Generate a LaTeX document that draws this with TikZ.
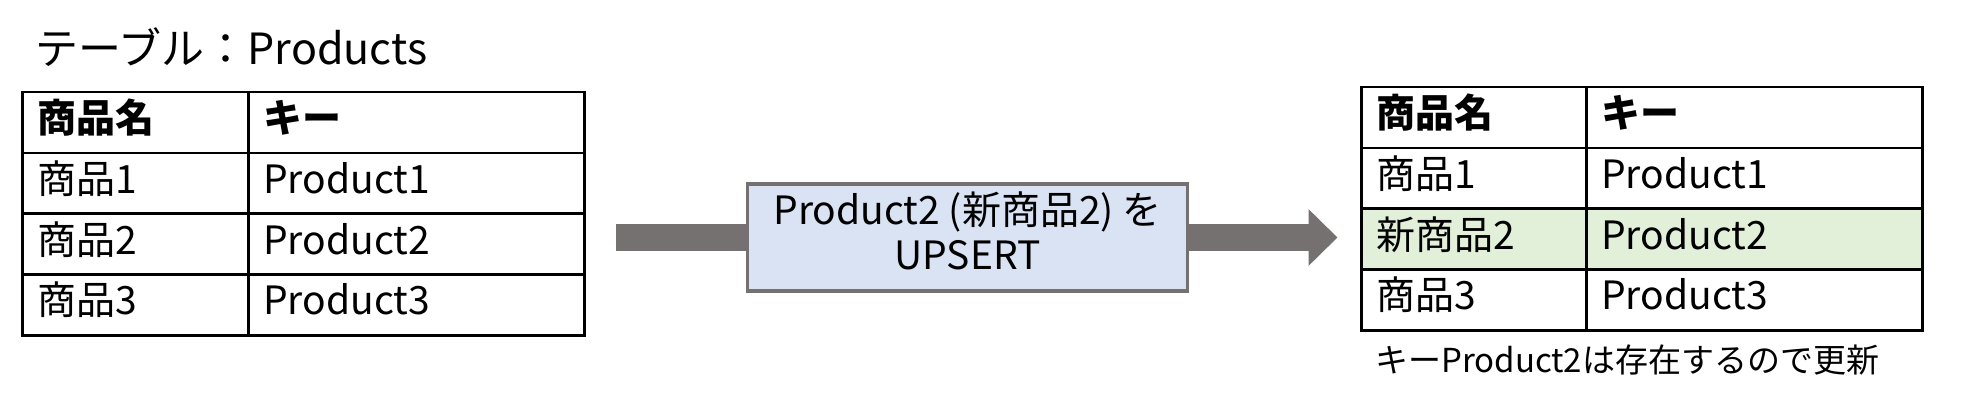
\documentclass[tikz,border=0pt]{standalone}
\usepackage{fontspec}
\setmainfont{Noto Sans CJK JP}
\usetikzlibrary{arrows.meta}
\definecolor{arrowgray}{HTML}{767171}
\definecolor{boxblue}{HTML}{DAE3F3}
\definecolor{rowgreen}{HTML}{E2F0D9}
\tikzset{
  cell/.style={draw=black, line width=2.5pt, anchor=north west, inner xsep=15pt, inner ysep=0pt,
    minimum height=60.75pt, text height=30pt, text depth=10pt, align=left, font=\fontsize{39}{46}\selectfont},
  colA/.style={cell, minimum width=226pt, text width=196pt},
  colB/.style={cell, minimum width=336pt, text width=306pt},
  colAr/.style={cell, minimum width=225pt, text width=195pt},
  colBr/.style={cell, minimum width=336pt, text width=306pt},
  hdr/.style={font=\fontsize{39}{46}\selectfont\bfseries},
  upsertbox/.style={draw=arrowgray, line width=3.5pt, fill=boxblue, minimum width=440pt, minimum height=107pt,
    inner sep=0pt, font=\fontsize{39}{45}\selectfont},
  bigarrow/.style={draw=arrowgray, line width=27.5pt, -{Triangle[length=29pt,width=55pt]}},
  titletext/.style={anchor=west, inner sep=0pt, font=\fontsize{43}{50}\selectfont},
  notetext/.style={anchor=west, inner sep=0pt, font=\fontsize{33}{40}\selectfont}
}
\begin{document}
\begin{tikzpicture}[x=1pt,y=-1pt]
\useasboundingbox (0,0) rectangle (1961,403);
\fill[white] (0,0) rectangle (1961,403);
% title
\node[titletext] (title) at (35,47.5) {テーブル：Products};
% left table
\node[colA,hdr] (L00) at (21,91) {商品名};
\node[colB,hdr] (L01) at (247,91) {キー};
\node[colA] (L10) at (21,151.75) {商品1};
\node[colB] (L11) at (247,151.75) {Product1};
\node[colA] (L20) at (21,212.5) {商品2};
\node[colB] (L21) at (247,212.5) {Product2};
\node[colA] (L30) at (21,273.25) {商品3};
\node[colB] (L31) at (247,273.25) {Product3};
% arrow and box
\coordinate (astart) at (616,237.5);
\coordinate (atip) at (1337.5,237.5);
\draw[bigarrow] (astart) -- (atip);
\node[upsertbox] (box) at (967.5,237.5) {\begin{tabular}{@{}c@{}}Product2 (新商品2) を\\UPSERT\end{tabular}};
% right table
\node[colAr,hdr] (R00) at (1360,86) {商品名};
\node[colBr,hdr] (R01) at (1585,86) {キー};
\node[colAr] (R10) at (1360,146.75) {商品1};
\node[colBr] (R11) at (1585,146.75) {Product1};
\node[colAr,fill=rowgreen] (R20) at (1360,207.5) {新商品2};
\node[colBr,fill=rowgreen] (R21) at (1585,207.5) {Product2};
\node[colAr] (R30) at (1360,268.25) {商品3};
\node[colBr] (R31) at (1585,268.25) {Product3};
% note
\node[notetext] (note) at (1375,360) {キーProduct2は存在するので更新};
\end{tikzpicture}
\end{document}
